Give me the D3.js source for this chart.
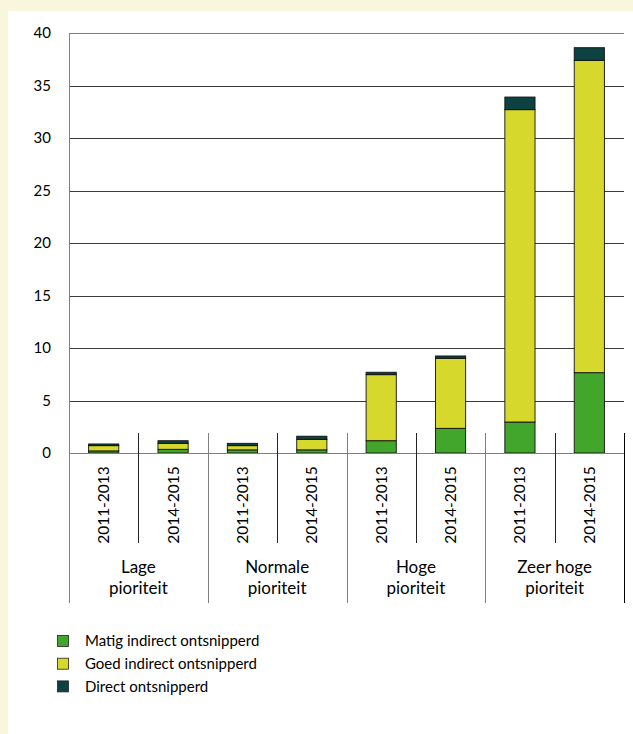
<!DOCTYPE html>
<html><head><meta charset="utf-8">
<script src="https://cdn.jsdelivr.net/npm/d3@7"></script>
<style>
html,body{margin:0;padding:0;background:#f8f6dc;}
svg{display:block;}
text{font-family:Lato,"Open Sans",sans-serif;fill:#000;}
</style></head><body>
<script>
const groups = ["Lage pioriteit","Normale pioriteit","Hoge pioriteit","Zeer hoge pioriteit"];
const groupLines = [["Lage","pioriteit"],["Normale","pioriteit"],["Hoge","pioriteit"],["Zeer hoge","pioriteit"]];
const periods = ["2011-2013","2014-2015"];
const seriesNames = ["Matig indirect ontsnipperd","Goed indirect ontsnipperd","Direct ontsnipperd"];
const seriesColors = ["#42a62c","#d6d92b","#0e4141"];
const matig = [0.2, 0.35, 0.3, 0.3, 1.17, 2.35, 2.95, 7.65];
const goed  = [0.5, 0.57, 0.4, 1.0, 6.29, 6.67, 29.75, 29.75];
const direct= [0.16, 0.25, 0.22, 0.3, 0.23, 0.22, 1.2, 1.2];
const yTicks = [0,5,10,15,20,25,30,35,40];

const W=633,H=734;
const svg=d3.select("body").append("svg").attr("width",W).attr("height",H);
svg.append("rect").attr("x",8).attr("y",11).attr("width",W-8).attr("height",H-11).attr("fill","#fff");

const x0=69,x1=624,yTop=33,yBot=453;
const cats=[];groups.forEach((g,gi)=>periods.forEach(p=>cats.push(gi+"|"+p)));
const x=d3.scaleBand().domain(cats).range([x0,x1]).paddingInner(0.565).paddingOuter(0.2825);
const slot=(x1-x0)/cats.length;
const y=d3.scaleLinear().domain([0,40]).range([yBot,yTop]);

// gridlines
svg.append("g").selectAll("line").data(yTicks.filter(d=>d>0)).join("line")
 .attr("x1",x0).attr("x2",x1).attr("y1",d=>Math.round(y(d))+0.5).attr("y2",d=>Math.round(y(d))+0.5)
 .attr("stroke",d=>d===40?"#808080":"#3a3a3a").attr("stroke-width",1);

// y axis labels
svg.append("g").selectAll("text").data(yTicks).join("text")
 .attr("x",51).attr("y",d=>y(d)).attr("dy","0.35em").attr("text-anchor","end")
 .style("font-size","15px").text(d=>d);

// stacked bars
const rows=cats.map((c,i)=>({cat:c,m:matig[i],g:goed[i],d:direct[i]}));
const stack=d3.stack().keys(["m","g","d"])(rows);
stack.forEach((s,si)=>{
  svg.append("g").selectAll("rect").data(s).join("rect")
   .attr("x",d=>x(d.data.cat)).attr("width",x.bandwidth())
   .attr("y",d=>y(d[1])).attr("height",d=>y(d[0])-y(d[1]))
   .attr("fill",seriesColors[si]).attr("stroke","#111").attr("stroke-width",0.9);
});

// zero line
svg.append("line").attr("x1",x0).attr("x2",x1).attr("y1",yBot+0.5).attr("y2",yBot+0.5).attr("stroke","#808080");
// y axis line
svg.append("line").attr("x1",x0+0.5).attr("x2",x0+0.5).attr("y1",yTop).attr("y2",603).attr("stroke","#808080");

// separators
const g=svg.append("g");
for(let i=1;i<=cats.length;i++){
  const xs=Math.round(x0+i*slot)+0.5;
  const isGroup=i%2===0;
  g.append("line").attr("x1",xs).attr("x2",xs).attr("y1",433).attr("y2",isGroup?603:543)
   .attr("stroke",isGroup?(i===cats.length?"#000":"#808080"):"#222");
}

// period labels
svg.append("g").selectAll("text").data(cats).join("text")
 .attr("transform",d=>`translate(${x(d)+x.bandwidth()/2},505) rotate(-90)`)
 .attr("text-anchor","middle").attr("dy","0.35em").style("font-size","15.5px")
 .text(d=>d.split("|")[1]);

// group labels
groupLines.forEach((lines,gi)=>{
  const cx=x0+slot*(gi*2+1);
  lines.forEach((t,li)=>{
    svg.append("text").attr("x",cx).attr("y",567+li*21.5).attr("dy","0.35em")
     .attr("text-anchor","middle").style("font-size","17px").text(t);
  });
});

// legend
const lg=svg.append("g").selectAll("g").data(seriesNames).join("g")
 .attr("transform",(d,i)=>`translate(57,${641+i*22.7})`);
lg.append("rect").attr("x",0.5).attr("y",-5.5).attr("width",11).attr("height",11)
 .attr("fill",(d,i)=>seriesColors[i]).attr("stroke","#222").attr("stroke-width",0.8);
lg.append("text").attr("x",28).attr("y",0).attr("dy","0.35em").style("font-size","15px").text(d=>d);
</script>
</body></html>
